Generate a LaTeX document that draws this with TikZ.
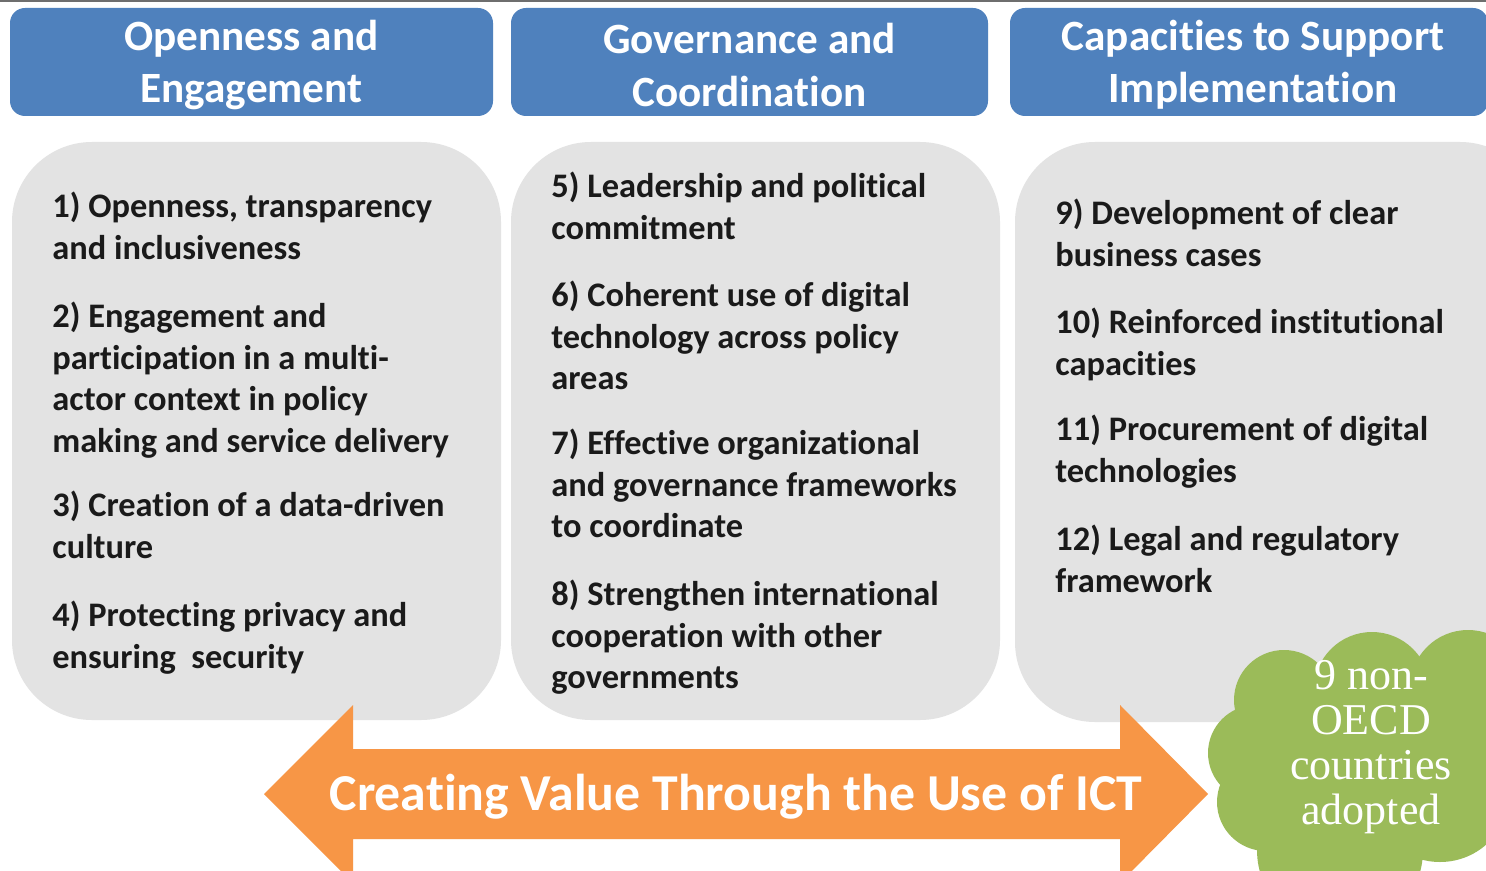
\documentclass[tikz,border=0pt]{standalone}
\usepackage{fontspec}
\setmainfont{Carlito}[Ligatures=NoCommon]
\newfontfamily\cloudfont{Liberation Serif}
\definecolor{hdrblue}{HTML}{4F81BD}
\definecolor{panelgray}{HTML}{E3E3E3}
\definecolor{arroworange}{HTML}{F79646}
\definecolor{cloudgreen}{HTML}{9BBB59}
\definecolor{txtdark}{HTML}{1A1A1A}
\definecolor{topline}{HTML}{6E6E6E}
\begin{document}
\begin{tikzpicture}[x=0.5pt,y=-0.5pt,
  hdr/.style={fill=hdrblue,rounded corners=7.5pt},
  hdrtext/.style={text=white,font=\fontsize{21.6}{26.2}\selectfont\bfseries,align=center,inner sep=0pt},
  panel/.style={fill=panelgray,rounded corners=40pt},
  item/.style={text=txtdark,font=\fontsize{17.2}{20.75}\selectfont\bfseries,align=left,anchor=north west,inner sep=0pt},
  cloudtext/.style={text=white,font=\cloudfont\fontsize{22}{22.6}\selectfont,align=center,inner sep=0pt},
  arrowtext/.style={text=white,font=\fontsize{25.9}{30}\selectfont\bfseries,inner sep=0pt}
]
\useasboundingbox (0,0) rectangle (1486,871);
\clip (0,0) rectangle (1486,871);
\fill[white] (0,0) rectangle (1486,871);
\fill[topline] (0,0) rectangle (1486,2.5);

% headers
\fill[hdr] (10,8) rectangle (493,116);
\fill[hdr] (511,8) rectangle (988,116);
\fill[hdr] (1010,8) rectangle (1488,116);
\node[hdrtext] (h1) at (251.5,65) {Openness and\\Engagement};
\node[hdrtext] (h2) at (749.5,65) {Governance and\\Coordination};
\node[hdrtext] (h3) at (1253,65) {Capacities to Support\\Implementation};

% panels
\fill[panel] (12,142) rectangle (501,720);
\fill[panel] (511,142) rectangle (1000,720);
\fill[panel] (1015,142) rectangle (1540,722);

% panel 1
\node[item] (i1) at (52,192) {1) Openness, transparency\\and inclusiveness};
\node[item] (i2) at (52,302) {2) Engagement and\\participation in a multi-\\actor context in policy\\making and service delivery};
\node[item] (i3) at (52,491) {3) Creation of a data-driven\\culture};
\node[item] (i4) at (52,601) {4) Protecting privacy and\\ensuring\ \ security};

% panel 2
\node[item] (i5) at (551,172) {5) Leadership and political\\commitment};
\node[item] (i6) at (551,281) {6) Coherent use of digital\\technology across policy\\areas};
\node[item] (i7) at (551,429) {7) Effective organizational\\and governance frameworks\\to coordinate};
\node[item] (i8) at (551,580) {8) Strengthen international\\cooperation with other\\governments};

% panel 3
\node[item] (i9) at (1055,199) {9) Development of clear\\business cases};
\node[item] (i10) at (1055,308) {10) Reinforced institutional\\capacities};
\node[item] (i11) at (1055,415) {11) Procurement of digital\\technologies};
\node[item] (i12) at (1055,525) {12) Legal and regulatory\\framework};

% double arrow
\fill[arroworange] (264,794) -- (353,705) -- (353,749) -- (1120,749) -- (1120,705)
  -- (1208,794) -- (1120,883) -- (1120,839) -- (353,839) -- (353,883) -- cycle;
\node[arrowtext] (arrowlabel) at (736,797) {Creating Value Through the Use of ICT};

% cloud
\fill[cloudgreen]
  (1284,700) circle[radius=50]
  (1372,690) circle[radius=58]
  (1468,688) circle[radius=58]
  (1256,753) circle[radius=48]
  (1266,802) circle[radius=49]
  (1340,850) circle[radius=83]
  (1440,792) circle[radius=70]
  (1360,760) circle[radius=95];
\node[cloudtext] (cloud) at (1371,747) {9 non-\\OECD\\countries\\adopted};
\end{tikzpicture}
\end{document}
